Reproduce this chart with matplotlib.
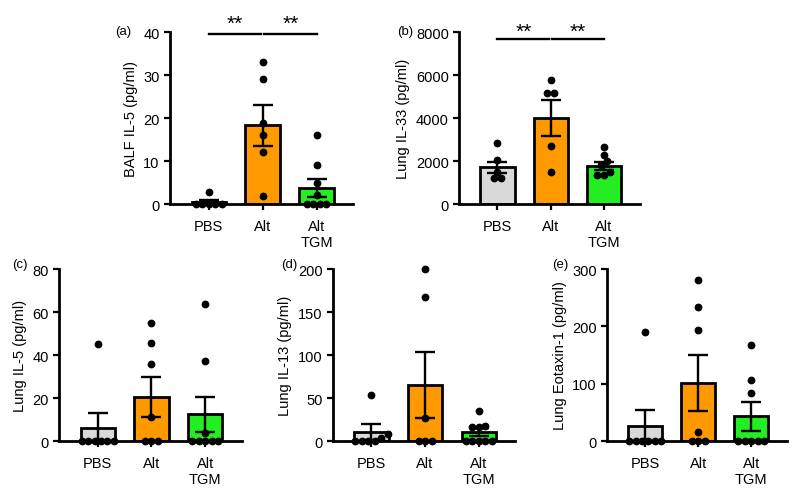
import matplotlib
matplotlib.use('Agg')
import matplotlib.pyplot as plt
import numpy as np

plt.rcParams['font.family'] = ['Liberation Sans', 'DejaVu Sans']
plt.rcParams['font.size'] = 10.5

groups = ['PBS', 'Alt', 'Alt\nTGM']
colors = ['#d9d9d9', '#ff9900', '#22ee22']

# (a) BALF IL-5
a_pts = [[2.9, 0, 0, 0, 0, 0],
         [33, 29, 18.9, 16, 12, 1.9],
         [16, 9, 5, 2, 0, 0, 0, 0]]
a_mean = [0.45, 18.3, 3.8]
a_sem = [0.45, 4.7, 2.1]

# (b) Lung IL-33
b_pts = [[2820, 2030, 1490, 1230, 1190],
         [5760, 5180, 5150, 2680, 1480],
         [2650, 2280, 1990, 1800, 1500, 1340, 1340]]
b_mean = [1700, 4006, 1790]
b_sem = [270, 830, 185]

# (c) Lung IL-5
c_pts = [[45.2, 0, 0, 0, 0, 0, 0],
         [55, 45.6, 35.9, 11, 0, 0, 0],
         [63.5, 37.2, 3.6, 0, 0, 0, 0, 0]]
c_mean = [6.0, 20.7, 12.4]
c_sem = [6.8, 9.3, 8.3]

# (d) Lung IL-13
d_pts = [[53.3, 8, 3, 0, 0, 0, 0],
         [200, 168, 27.2, 0, 0, 0],
         [35.4, 17, 16, 16, 0, 0, 0, 0, 0]]
d_mean = [10.5, 65, 10.1]
d_sem = [9, 38.5, 4.8]

# (e) Lung Eotaxin-1
e_pts = [[189.6, 0, 0, 0, 0, 0, 0],
         [280, 234, 193, 15, 0, 0, 0],
         [168, 107, 84, 0, 0, 0, 0, 0]]
e_mean = [25.4, 101.7, 42.8]
e_sem = [28.4, 49, 26]


def spread(vals, ymax, step=0.12, maxw=0.6):
    # spread dots with (nearly) equal values sideways, like a scatter dot plot
    vals = np.sort(np.asarray(vals, float))
    xs = np.zeros(len(vals))
    tol = 0.03 * ymax
    i = 0
    while i < len(vals):
        j = i
        while j + 1 < len(vals) and vals[j + 1] - vals[j] < tol:
            j += 1
        n = j - i + 1
        s = min(step, maxw / max(n - 1, 1))
        xs[i:j + 1] = (np.arange(n) - (n - 1) / 2) * s
        i = j + 1
    return xs, vals


def panel(rect, pts, mean, sem, ymax, yticks, ylabel, label, label_xy):
    ax = fig.add_axes(rect)
    x = np.arange(3)
    ax.bar(x, mean, width=0.64, color=colors, edgecolor='black', linewidth=2.0, zorder=2)
    ax.errorbar(x, mean, yerr=sem, fmt='none', ecolor='black', elinewidth=1.7,
                capsize=7.5, capthick=1.7, zorder=3)
    for i, p in enumerate(pts):
        dx, v = spread(p, ymax)
        ax.plot(i + dx, v, 'o', color='black', ms=4.6, zorder=4, clip_on=False)
    ax.set_xlim(-0.72, 2.68)
    ax.set_ylim(0, ymax)
    ax.set_yticks(yticks)
    ax.set_xticks(x)
    ax.set_xticklabels(groups)
    ax.set_ylabel(ylabel, fontsize=10.5)
    for s in ['top', 'right']:
        ax.spines[s].set_visible(False)
    for s in ['left', 'bottom']:
        ax.spines[s].set_linewidth(2.0)
    ax.tick_params(axis='both', width=1.6, length=4, labelsize=10.5)
    ax.tick_params(axis='x', pad=7)
    fig.text(label_xy[0], label_xy[1], label, fontsize=9.5, va='center', ha='left')
    return ax


def stars(ax, y, ys):
    for x0, x1 in [(0.0, 0.97), (1.03, 2.0)]:
        ax.plot([x0, x1], [y, y], color='black', lw=1.7, clip_on=False)
        ax.text((x0 + x1) / 2, ys, '**', ha='center', va='center', fontsize=15)


fig = plt.figure(figsize=(8, 5.02), dpi=100)

axa = panel([0.2125, 0.5916, 0.229, 0.3426], a_pts, a_mean, a_sem, 40, [0, 10, 20, 30, 40],
            'BALF IL-5 (pg/ml)', '(a)', (0.144, 0.936))
stars(axa, 39.6, 42.0)
axb = panel([0.574, 0.5916, 0.226, 0.3426], b_pts, b_mean, b_sem, 8000, [0, 2000, 4000, 6000, 8000],
            'Lung IL-33 (pg/ml)', '(b)', (0.496, 0.936))
stars(axb, 7660, 8030)
panel([0.074, 0.1195, 0.228, 0.3426], c_pts, c_mean, c_sem, 80, [0, 20, 40, 60, 80],
      'Lung IL-5 (pg/ml)', '(c)', (0.015, 0.472))
panel([0.416, 0.1195, 0.228, 0.3426], d_pts, d_mean, d_sem, 200, [0, 50, 100, 150, 200],
      'Lung IL-13 (pg/ml)', '(d)', (0.352, 0.472))
panel([0.759, 0.1195, 0.225, 0.3426], e_pts, e_mean, e_sem, 300, [0, 100, 200, 300],
      'Lung Eotaxin-1 (pg/ml)', '(e)', (0.69, 0.472))

fig.savefig('out.png', dpi=100)
